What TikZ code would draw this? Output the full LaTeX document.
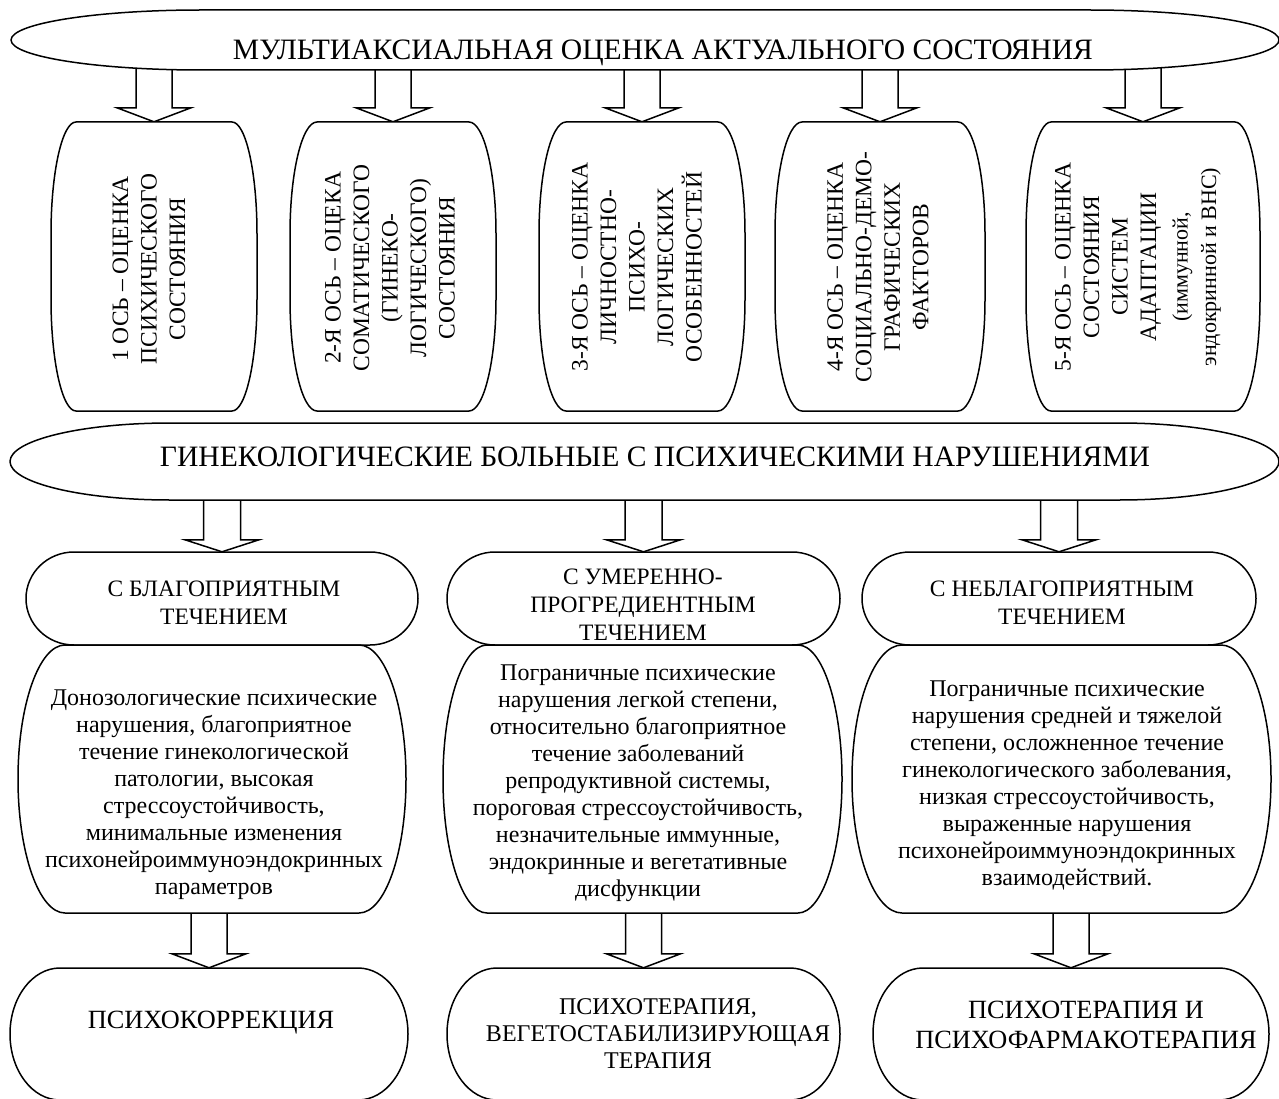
\documentclass[tikz,border=0pt]{standalone}
\usepackage{fontspec}
\setmainfont{Liberation Serif}
\usetikzlibrary{calc}
\pgfdeclarelayer{arrowlayer}
\pgfdeclarelayer{shapelayer}
\pgfsetlayers{arrowlayer,shapelayer,main}

\tikzset{
  outline/.style={draw=black, line width=1.5pt, fill=white, line join=round},
  barrowline/.style={draw=black, line width=1.5pt, fill=white, line join=miter},
  titletext/.style={inner sep=0pt, font={\fontsize{29.6}{33}\selectfont}},
  vtext/.style={inner sep=0pt, align=center, rotate=90, font={\fontsize{23.5}{28.5}\selectfont}},
  rowtwo/.style={inner sep=0pt, align=center, font={\fontsize{23.5}{28}\selectfont}},
  rowthree/.style={inner sep=0pt, align=center, font={\fontsize{24}{27}\selectfont}},
  rowfour/.style={inner sep=0pt, align=center, font={\fontsize{26.3}{30}\selectfont}},
  rowfoursmall/.style={inner sep=0pt, align=center, font={\fontsize{24}{27}\selectfont}},
}

% name, cx, cy, straight half-width, half-height, cap x-radius, cap y-radius
\newcommand\mycapsule[7]{%
  \node[inner sep=0pt, minimum width={2*(#4+#6)}, minimum height={2*#5}] (#1) at (#2,#3) {};
  \begin{pgfonlayer}{shapelayer}
  \path[outline] (#2-#4,#3-#5) -- (#2+#4,#3-#5)
    arc[start angle=90,end angle=0,x radius=#6pt,y radius=#7pt]
    -- (#2+#4+#6,#3+#5-#7)
    arc[start angle=0,end angle=-90,x radius=#6pt,y radius=#7pt]
    -- (#2-#4,#3+#5)
    arc[start angle=270,end angle=180,x radius=#6pt,y radius=#7pt]
    -- (#2-#4-#6,#3-#5+#7)
    arc[start angle=180,end angle=90,x radius=#6pt,y radius=#7pt]
    -- cycle;
  \end{pgfonlayer}}

% from, to, head length, shaft half-width, head half-width
\newcommand\barrow[5]{%
  \begin{pgfonlayer}{arrowlayer}
  \path[barrowline] let \p1=(#1), \p2=(#2) in
    (\x2-#4pt,\y1) -- (\x2-#4pt,\y2+#3pt) -- (\x2-#5pt,\y2+#3pt) -- (\x2,\y2)
    -- (\x2+#5pt,\y2+#3pt) -- (\x2+#4pt,\y2+#3pt) -- (\x2+#4pt,\y1) -- cycle;
  \end{pgfonlayer}}

\begin{document}
\begin{tikzpicture}[x=1pt,y=-1pt]
\useasboundingbox (0,0) rectangle (1279,1099);

% top ellipse
\mycapsule{e1}{645}{40}{444}{30}{190}{30}
\node[titletext, anchor=base] (t1) at (663,60) {МУЛЬТИАКСИАЛЬНАЯ ОЦЕНКА АКТУАЛЬНОГО СОСТОЯНИЯ};

% five axis boxes
\mycapsule{b1}{154}{266.5}{78}{144.5}{25}{112}
\mycapsule{b2}{393}{266.5}{76}{144.5}{27}{112}
\mycapsule{b3}{642}{266.5}{76}{144.5}{27}{112}
\mycapsule{b4}{880}{266.5}{78}{144.5}{27}{112}
\mycapsule{b5}{1143}{266.5}{92}{144.5}{25}{112}

\node[vtext] (v1) at (149,269) {1 ОСЬ – ОЦЕНКА\\ПСИХИЧЕСКОГО\\СОСТОЯНИЯ};
\node[vtext] (v2) at (390,268) {2-Я ОСЬ – ОЦЕКА\\СОМАТИЧЕСКОГО\\(ГИНЕКО-\\ЛОГИЧЕСКОГО)\\СОСТОЯНИЯ};
\node[vtext] (v3) at (637,267) {3-Я ОСЬ – ОЦЕНКА\\ЛИЧНОСТНО-\\ПСИХО-\\ЛОГИЧЕСКИХ\\ОСОБЕННОСТЕЙ};
\node[vtext] (v4) at (878,267) {4-Я ОСЬ – ОЦЕНКА\\СОЦИАЛЬНО-ДЕМО-\\ГРАФИЧЕСКИХ\\ФАКТОРОВ};
\node[vtext] (v5) at (1138,267) {5-Я ОСЬ – ОЦЕНКА\\СОСТОЯНИЯ\\СИСТЕМ\\АДАПТАЦИИ\\[3pt]{\fontsize{22}{27}\selectfont (иммунной,}\\{\fontsize{22}{27}\selectfont эндокринной и ВНС)}};

\barrow{e1.center}{b1.north}{14}{18}{37}
\barrow{e1.center}{b2.north}{14}{18}{37}
\barrow{e1.center}{b3.north}{14}{18}{37}
\barrow{e1.center}{b4.north}{14}{18}{37}
\barrow{e1.center}{b5.north}{14}{18}{37}

% middle ellipse
\mycapsule{e2}{644.5}{461.5}{474.5}{38.5}{160}{38.5}
\node[titletext, anchor=base] (t2) at (655,466) {ГИНЕКОЛОГИЧЕСКИЕ БОЛЬНЫЕ С ПСИХИЧЕСКИМИ НАРУШЕНИЯМИ};

% row 2
\mycapsule{s1}{222}{598.5}{148}{46.5}{48}{46.5}
\mycapsule{s2}{643.5}{598.5}{148.5}{46.5}{48}{46.5}
\mycapsule{s3}{1059}{598.5}{149}{46.5}{48}{46.5}
\node[rowtwo] (s1t) at (224,603) {С БЛАГОПРИЯТНЫМ\\ТЕЧЕНИЕМ};
\node[rowtwo] (s2t) at (643,605) {С УМЕРЕННО-\\ПРОГРЕДИЕНТНЫМ\\ТЕЧЕНИЕМ};
\node[rowtwo] (s3t) at (1062,603) {С НЕБЛАГОПРИЯТНЫМ\\ТЕЧЕНИЕМ};

\barrow{e2.center}{s1.north}{12}{18.5}{37}
\barrow{e2.center}{s2.north}{12}{18.5}{37}
\barrow{e2.center}{s3.north}{12}{18.5}{37}

% row 3
\mycapsule{d1}{212}{779}{147}{134}{47}{134}
\mycapsule{d2}{642.5}{779}{155.5}{134}{44}{134}
\mycapsule{d3}{1061.5}{779}{159.5}{134}{50}{134}
\node[rowthree] (d1t) at (214,795) {Донозологические психические\\нарушения, благоприятное\\течение гинекологической\\патологии, высокая\\стрессоустойчивость,\\минимальные изменения\\психонейроиммуноэндокринных\\параметров};
\node[rowthree] (d2t) at (638,783) {Пограничные психические\\нарушения легкой степени,\\относительно благоприятное\\течение заболеваний\\репродуктивной системы,\\пороговая стрессоустойчивость,\\незначительные иммунные,\\эндокринные и вегетативные\\дисфункции};
\node[rowthree] (d3t) at (1067,785) {Пограничные психические\\нарушения средней и тяжелой\\степени, осложненное течение\\гинекологического заболевания,\\низкая стрессоустойчивость,\\выраженные нарушения\\психонейроиммуноэндокринных\\взаимодействий.};

% row 4
\mycapsule{f1}{209}{1034}{149}{66}{50}{66}
\mycapsule{f2}{643.5}{1034}{146.5}{66}{50}{66}
\mycapsule{f3}{1071}{1034}{148}{66}{50}{66}
\node[rowfour] (f1t) at (211,1023) {ПСИХОКОРРЕКЦИЯ};
\node[rowfoursmall] (f2t) at (658,1034) {ПСИХОТЕРАПИЯ,\\ВЕГЕТОСТАБИЛИЗИРУЮЩАЯ\\ТЕРАПИЯ};
\node[rowfour] (f3t) at (1086,1025) {ПСИХОТЕРАПИЯ И\\ПСИХОФАРМАКОТЕРАПИЯ};

\barrow{d1.center}{f1.north}{14}{18}{37}
\barrow{d2.center}{f2.north}{14}{18}{37}
\barrow{d3.center}{f3.north}{14}{18}{37}
\end{tikzpicture}
\end{document}
